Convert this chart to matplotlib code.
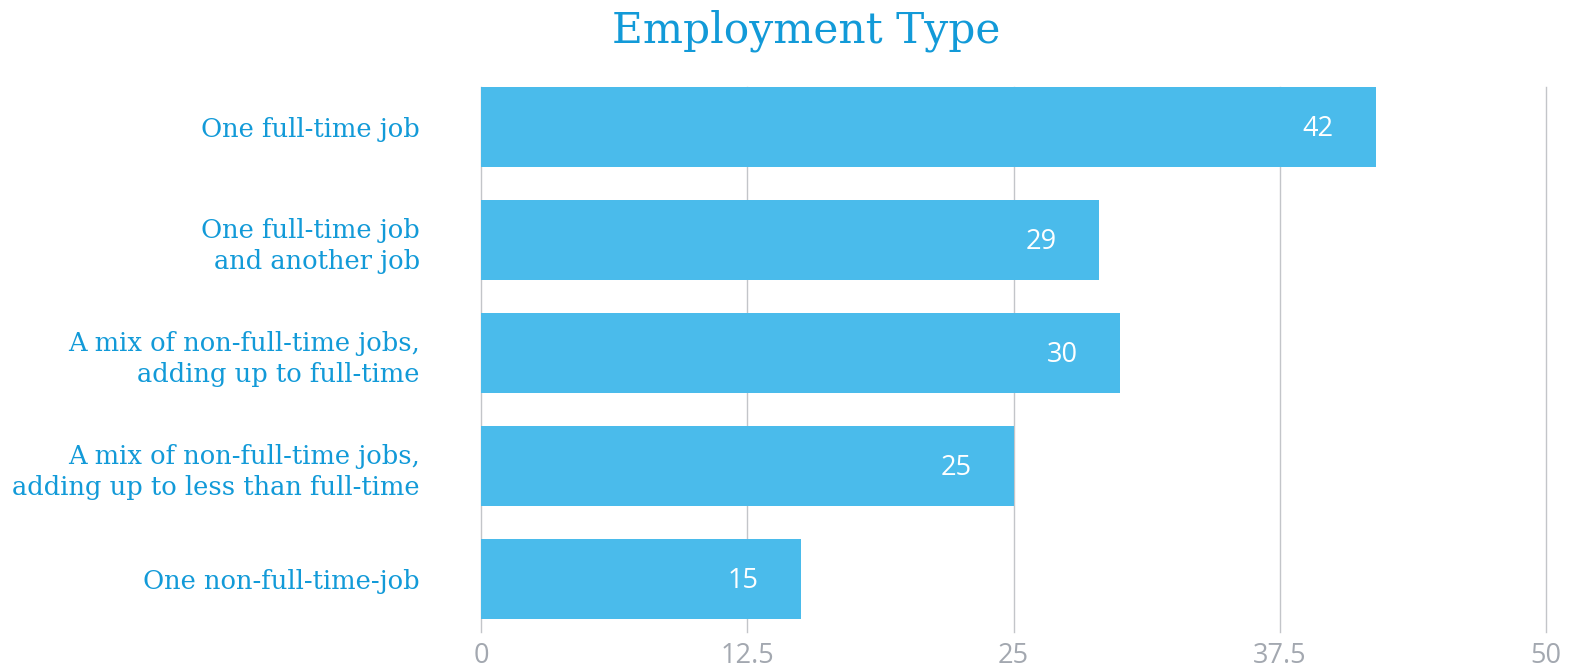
import matplotlib
matplotlib.use("Agg")
import matplotlib.pyplot as plt

categories = [
    "One full-time job",
    "One full-time job\nand another job",
    "A mix of non-full-time jobs,\nadding up to full-time",
    "A mix of non-full-time jobs,\nadding up to less than full-time",
    "One non-full-time-job",
]
values = [42, 29, 30, 25, 15]
x_ticks = [0, 12.5, 25, 37.5, 50]
x_tick_labels = ["0", "12.5", "25", "37.5", "50"]
title = "Employment Type"

BAR = "#4abbeb"
BLUE = "#129ad8"
GRID = "#c3c5c9"
TICK = "#a3a8b0"

fig = plt.figure(figsize=(15.75, 6.71), dpi=100)
ax = fig.add_axes([481 / 1575, 1 - 632 / 671, 1065 / 1575, 545 / 671])

ypos = list(range(len(categories)))
ax.barh(ypos, values, height=0.708, color=BAR, zorder=3)

ax.set_xlim(0, 50)
ax.set_ylim(4.469, -0.354)

ax.set_xticks(x_ticks)
ax.set_xticklabels(x_tick_labels, fontfamily="Open Sans", fontsize=19.5, color=TICK)
ax.tick_params(axis="x", length=0, pad=7)
ax.grid(axis="x", color=GRID, linewidth=1.0, zorder=0)
for gl in ax.get_xgridlines():
    gl.set_clip_on(False)

ax.set_yticks(ypos)
ax.set_yticklabels(categories, fontfamily="DejaVu Serif", fontsize=18.5, color=BLUE,
                   linespacing=1.3, ha="right")
ax.tick_params(axis="y", length=0, pad=44)

for s in ax.spines.values():
    s.set_visible(False)

# value labels sit inside each bar, right-aligned a little before its end
for y, v in zip(ypos, values):
    ax.annotate(str(v), xy=(v, y), xytext=(-42, -2), textcoords="offset pixels",
                ha="right", va="center", color="white", fontfamily="Open Sans",
                fontsize=19.5, fontweight="medium", zorder=4)

fig.text(806 / 1575, 1 - 31 / 671, title, ha="center", va="center",
         fontfamily="DejaVu Serif", fontsize=30.5, color=BLUE)

fig.savefig("out.png", dpi=100)
